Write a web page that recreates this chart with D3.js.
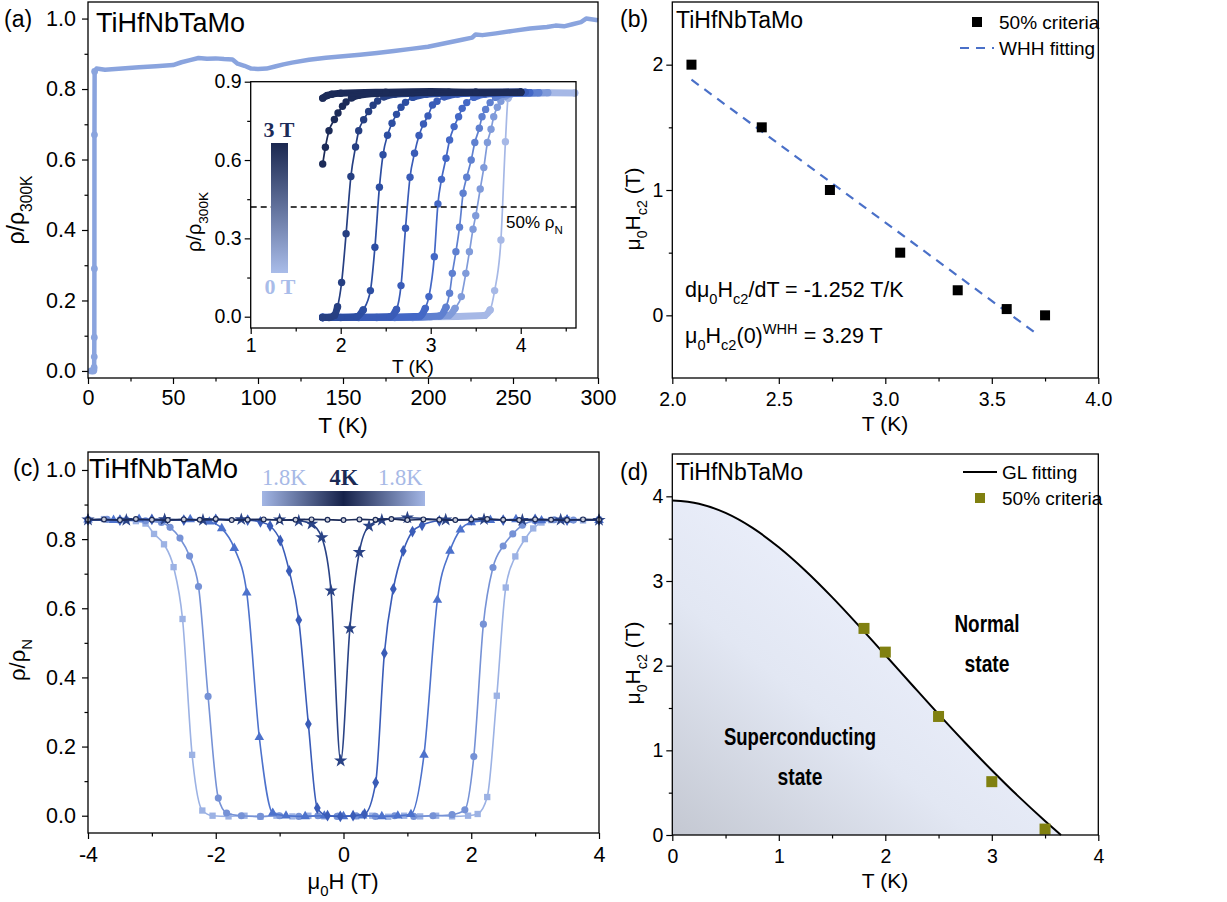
<!DOCTYPE html>
<html>
<head>
<meta charset="utf-8">
<script src="https://cdn.jsdelivr.net/npm/d3@7"></script>
<style>
  body { margin: 0; background: #fff; }
</style>
</head>
<body>
<div id="chart"></div>
<script>
// ---------- data ----------
// (a) rho/rho300K vs T, main curve
var aT = [1.8, 2.5, 3.2, 3.5, 3.6, 3.68, 3.72, 3.76, 3.8, 3.9, 5, 10, 20, 30, 40, 50, 55, 60, 65, 70, 75, 80, 85, 88, 92, 96, 100, 105, 110, 115, 120, 130, 140, 150, 160, 170, 180, 190, 200, 210, 220, 226, 228, 232, 240, 250, 260, 270, 275, 280, 285, 290, 293, 300]
var aR = [0.0, 0.0, 0.0, 0.003, 0.01, 0.04, 0.095, 0.29, 0.67, 0.85, 0.858, 0.855, 0.858, 0.862, 0.865, 0.868, 0.876, 0.882, 0.888, 0.886, 0.887, 0.885, 0.884, 0.872, 0.866, 0.858, 0.857, 0.858, 0.864, 0.87, 0.875, 0.883, 0.889, 0.893, 0.897, 0.902, 0.908, 0.914, 0.92, 0.93, 0.94, 0.946, 0.955, 0.953, 0.958, 0.965, 0.972, 0.976, 0.98, 0.978, 0.984, 0.99, 1.0, 0.995]

// (a) inset, one series per field (lightest drawn first)
var insetFields = ['0 T', '0.05 T', '0.2 T', '0.5 T', '1 T', '1.5 T', '2 T', '3 T', 'high']
var insetColors = ['#a6b8e6', '#809bda', '#5f80d0', '#4468c6', '#3a5cb8', '#2d4ea2', '#263f82', '#1c2b58', '#1c2b58']
var in0T = [[1.8, 0.0], [2.6, 0.0], [3.0, 0.0], [3.6, 0.005], [3.66, 0.026], [3.71, 0.1], [3.78, 0.294], [3.83, 0.67], [3.86, 0.837], [3.9, 0.855], [4.2, 0.858], [4.6, 0.857]]
var in005T = [[1.8, -0.003], [2.8, -0.003], [3.2, 0.005], [3.27, 0.032], [3.34, 0.077], [3.39, 0.166], [3.43, 0.249], [3.47, 0.335], [3.5, 0.387], [3.55, 0.489], [3.59, 0.571], [3.63, 0.667], [3.67, 0.718], [3.7, 0.766], [3.74, 0.802], [3.78, 0.825], [3.83, 0.845], [3.9, 0.855], [4.3, 0.858]]
var in02T = [[1.8, -0.003], [2.6, -0.003], [3.1, 0.003], [3.17, 0.036], [3.21, 0.09], [3.24, 0.166], [3.28, 0.249], [3.32, 0.343], [3.36, 0.473], [3.4, 0.534], [3.45, 0.6], [3.49, 0.667], [3.54, 0.722], [3.57, 0.766], [3.61, 0.794], [3.66, 0.82], [3.72, 0.84], [3.8, 0.852], [4.2, 0.858]]
var in05T = [[1.8, -0.003], [2.4, -0.003], [2.88, 0.002], [2.94, 0.032], [2.98, 0.077], [3.04, 0.23], [3.08, 0.432], [3.12, 0.526], [3.17, 0.607], [3.21, 0.677], [3.26, 0.728], [3.31, 0.766], [3.35, 0.798], [3.4, 0.82], [3.48, 0.84], [3.6, 0.852], [4.1, 0.858]]
var in1T = [[1.8, -0.003], [2.2, -0.003], [2.55, 0.0], [2.62, 0.028], [2.67, 0.119], [2.72, 0.339], [2.77, 0.534], [2.82, 0.626], [2.87, 0.694], [2.92, 0.738], [2.97, 0.769], [3.02, 0.811], [3.07, 0.825], [3.15, 0.842], [3.3, 0.853], [3.7, 0.858], [4.05, 0.86]]
var in15T = [[1.8, -0.003], [2.0, -0.003], [2.18, 0.0], [2.25, 0.026], [2.33, 0.1], [2.38, 0.266], [2.43, 0.496], [2.47, 0.62], [2.52, 0.695], [2.57, 0.741], [2.62, 0.775], [2.67, 0.802], [2.72, 0.821], [2.8, 0.84], [2.95, 0.852], [3.4, 0.858], [4.0, 0.86]]
var in2T = [[1.8, -0.003], [1.87, -0.003], [1.93, 0.005], [1.965, 0.038], [2.01, 0.131], [2.06, 0.318], [2.113, 0.537], [2.165, 0.65], [2.2, 0.712], [2.255, 0.754], [2.31, 0.786], [2.36, 0.81], [2.41, 0.826], [2.48, 0.842], [2.6, 0.852], [3.0, 0.858], [3.5, 0.86], [4.0, 0.86]]
var in3T = [[1.8, 0.585], [1.83, 0.649], [1.87, 0.712], [1.93, 0.755], [1.97, 0.78], [2.02, 0.806], [2.06, 0.822], [2.12, 0.838], [2.2, 0.848], [2.4, 0.855], [2.8, 0.858], [3.2, 0.86], [3.6, 0.858], [4.0, 0.86]]
var inHigh = [[1.8, 0.837], [1.85, 0.847], [1.9, 0.852], [2.0, 0.856], [2.5, 0.86], [3.0, 0.862], [3.5, 0.86], [4.0, 0.86]]
var insetSeries = [in0T, in005T, in02T, in05T, in1T, in15T, in2T, in3T, inHigh]
var halfLevel = 0.42

// (b) Hc2 from 50% criteria and WHH fit
var bT = [2.09, 2.42, 2.74, 3.07, 3.34, 3.57, 3.75]
var bH = [2.0, 1.5, 1.0, 0.5, 0.2, 0.05, 0.0]
var whhT = [2.09, 3.72]
var whhH = [1.88, -0.16]

// (c) rho/rhoN vs mu0H, temperatures 1.8 K ... 4 K
var c18 = [[-4, 0.856], [-3.75, 0.858], [-3.5, 0.855], [-3.25, 0.852], [-3.1, 0.845], [-2.966, 0.815], [-2.81, 0.785], [-2.66, 0.719], [-2.52, 0.569], [-2.37, 0.176], [-2.21, 0.015], [-2.05, 0.0], [-1.8, -0.002], [-1.55, 0.0], [-1.3, -0.003], [-1.05, 0.0], [-0.8, -0.002], [-0.55, 0.0], [-0.3, -0.002], [-0.05, 0.0], [0.2, -0.002], [0.45, 0.0], [0.7, -0.003], [0.95, 0.0], [1.2, -0.002], [1.45, 0.0], [1.7, -0.002], [1.95, 0.0], [2.1, 0.005], [2.25, 0.054], [2.4, 0.347], [2.54, 0.66], [2.69, 0.75], [2.84, 0.8], [2.97, 0.831], [3.1, 0.848], [3.25, 0.855], [3.5, 0.857], [3.75, 0.854], [4.0, 0.856]]
var c20 = [[-4, 0.855], [-3.7, 0.857], [-3.4, 0.856], [-3.1, 0.853], [-2.85, 0.848], [-2.715, 0.834], [-2.56, 0.803], [-2.41, 0.751], [-2.27, 0.663], [-2.12, 0.345], [-1.96, 0.051], [-1.83, 0.008], [-1.6, 0.0], [-1.3, -0.002], [-1.0, 0.0], [-0.7, -0.002], [-0.4, 0.0], [-0.1, -0.002], [0.2, 0.0], [0.5, -0.002], [0.8, 0.0], [1.1, -0.002], [1.4, 0.0], [1.7, 0.003], [1.9, 0.017], [2.04, 0.171], [2.19, 0.554], [2.34, 0.718], [2.5, 0.78], [2.65, 0.815], [2.8, 0.84], [3.0, 0.853], [3.3, 0.856], [3.6, 0.855], [4.0, 0.856]]
var c25 = [[-4, 0.856], [-3.6, 0.855], [-3.2, 0.858], [-2.8, 0.855], [-2.4, 0.857], [-2.1, 0.85], [-1.906, 0.831], [-1.71, 0.774], [-1.515, 0.645], [-1.318, 0.227], [-1.108, 0.008], [-0.9, 0.0], [-0.6, -0.002], [-0.3, 0.0], [0.0, -0.002], [0.3, 0.0], [0.6, -0.002], [0.85, 0.0], [1.056, 0.004], [1.26, 0.176], [1.47, 0.624], [1.667, 0.766], [1.83, 0.827], [2.0, 0.848], [2.3, 0.855], [2.7, 0.857], [3.1, 0.854], [3.5, 0.856], [4.0, 0.855]]
var c30 = [[-4, 0.856], [-3.5, 0.855], [-3.0, 0.857], [-2.5, 0.855], [-2.0, 0.857], [-1.5, 0.855], [-1.3, 0.85], [-1.15, 0.838], [-0.99, 0.796], [-0.85, 0.708], [-0.7, 0.566], [-0.55, 0.265], [-0.41, 0.022], [-0.25, 0.0], [-0.05, -0.002], [0.15, 0.0], [0.33, 0.005], [0.504, 0.096], [0.64, 0.47], [0.78, 0.656], [0.936, 0.766], [1.08, 0.822], [1.23, 0.84], [1.5, 0.853], [2.0, 0.856], [2.5, 0.855], [3.0, 0.857], [3.5, 0.855], [4.0, 0.856]]
var c35 = [[-4, 0.856], [-3.4, 0.855], [-2.8, 0.857], [-2.2, 0.855], [-1.6, 0.857], [-1.0, 0.856], [-0.7, 0.853], [-0.5, 0.844], [-0.34, 0.805], [-0.196, 0.651], [-0.044, 0.159], [0.1, 0.542], [0.247, 0.762], [0.4, 0.838], [0.6, 0.855], [1.0, 0.862], [1.6, 0.856], [2.2, 0.857], [2.8, 0.855], [3.4, 0.856], [4.0, 0.855]]
var c40 = [[-4, 0.856], [-3.75, 0.857], [-3.5, 0.855], [-3.25, 0.858], [-3, 0.856], [-2.75, 0.855], [-2.5, 0.857], [-2.25, 0.856], [-2, 0.858], [-1.75, 0.855], [-1.5, 0.856], [-1.25, 0.857], [-1, 0.855], [-0.75, 0.856], [-0.5, 0.857], [-0.25, 0.856], [0, 0.855], [0.25, 0.857], [0.5, 0.856], [0.75, 0.858], [1, 0.855], [1.25, 0.857], [1.5, 0.856], [1.75, 0.855], [2, 0.857], [2.25, 0.858], [2.5, 0.856], [2.75, 0.855], [3, 0.857], [3.25, 0.856], [3.5, 0.855], [3.75, 0.857], [4, 0.856]]
var cSeries = [c18, c20, c25, c30, c35, c40]
var cTemps = ['1.8 K', '2.0 K', '2.5 K', '3.0 K', '3.5 K', '4.0 K']
var cColors = ['#9cb2e4', '#7692d6', '#4d72cc', '#3a5cb8', '#2a4386', '#1b2a57']
var cSymbols = [d3.symbolSquare, d3.symbolCircle, d3.symbolTriangle, d3.symbolDiamond, d3.symbolStar, d3.symbolCircle]

// (d) phase diagram
var dT = [1.8, 2.0, 2.5, 3.0, 3.5]
var dH = [2.44, 2.16, 1.40, 0.63, 0.07]
var glT = [0, 0.25, 0.5, 0.75, 1.0, 1.25, 1.5, 1.75, 2.0, 2.25, 2.5, 2.75, 3.0, 3.25, 3.5, 3.65]
var glH = [3.95, 3.913, 3.804, 3.63, 3.398, 3.121, 2.809, 2.473, 2.126, 1.775, 1.427, 1.089, 0.765, 0.456, 0.166, 0]

// ---------- drawing ----------
var FONT = 'Arial, "Liberation Sans", sans-serif'
var SERIF = '"Times New Roman", "Liberation Serif", serif'

var svg = d3.select('#chart').append('svg')
  .attr('width', 1227)
  .attr('height', 902)
  .style('background', '#fff')
var defs = svg.append('defs')

// text with sub / superscripts
function rich (g, x, y, parts, size, opt) {
  opt = opt || {}
  var t = g.append('text')
    .attr('font-family', opt.family || FONT)
    .attr('font-size', size)
    .attr('text-anchor', opt.anchor || 'start')
    .attr('fill', opt.fill || '#000')
  if (opt.weight) t.attr('font-weight', opt.weight)
  if (opt.rotate) {
    t.attr('transform', 'translate(' + x + ',' + y + ')rotate(-90)')
  } else {
    t.attr('x', x).attr('y', y)
  }
  var shift = 0
  parts.forEach(function (p) {
    var s = typeof p === 'string' ? { t: p } : p
    var target = s.sub ? size * 0.33 : (s.sup ? -size * 0.42 : 0)
    t.append('tspan')
      .attr('dy', target - shift)
      .attr('font-size', (s.sub || s.sup) ? size * 0.68 : size)
      .text(s.t)
    shift = target
  })
  return t
}

function panel (p) {
  var g = svg.append('g')
  var xs = d3.scaleLinear().domain(p.xd).range([p.left, p.right])
  var ys = d3.scaleLinear().domain(p.yd).range([p.bottom, p.top])
  if (p.bg) {
    g.append('rect')
      .attr('x', p.left).attr('y', p.top)
      .attr('width', p.right - p.left).attr('height', p.bottom - p.top)
      .attr('fill', p.bg)
  }
  var ax = g.append('g')
  ax.append('g').attr('transform', 'translate(0,' + p.bottom + ')')
    .call(d3.axisBottom(xs).tickValues(p.xMinor).tickSize(3.5).tickFormat(''))
  ax.append('g').attr('transform', 'translate(0,' + p.bottom + ')')
    .call(d3.axisBottom(xs).tickValues(p.xMajor).tickSize(6).tickPadding(p.xPad).tickFormat(p.xFmt))
  ax.append('g').attr('transform', 'translate(' + p.left + ',0)')
    .call(d3.axisLeft(ys).tickValues(p.yMinor).tickSize(3.5).tickFormat(''))
  ax.append('g').attr('transform', 'translate(' + p.left + ',0)')
    .call(d3.axisLeft(ys).tickValues(p.yMajor).tickSize(6).tickPadding(p.yPad).tickFormat(p.yFmt))
  ax.selectAll('.domain').remove()
  ax.selectAll('line').attr('stroke', '#000').attr('stroke-width', 1.2)
  ax.selectAll('text').attr('font-family', FONT).attr('font-size', p.fs).attr('fill', '#000')
  var plot = g.append('g')
  return {
    g: g,
    plot: plot,
    xs: xs,
    ys: ys,
    frame: function () {
      g.append('rect')
        .attr('x', p.left).attr('y', p.top)
        .attr('width', p.right - p.left).attr('height', p.bottom - p.top)
        .attr('fill', 'none').attr('stroke', '#000').attr('stroke-width', 1.3)
    }
  }
}

function fix1 (d) { return d.toFixed(1) }
function plain (d) { return String(d) }

// ===== (a) =====
var A = panel({
  left: 88, right: 598, top: 2, bottom: 378,
  xd: [0, 300], yd: [-0.02, 1.047],
  xMajor: [0, 50, 100, 150, 200, 250, 300], xMinor: [25, 75, 125, 175, 225, 275],
  yMajor: [0, 0.2, 0.4, 0.6, 0.8, 1.0], yMinor: [0.1, 0.3, 0.5, 0.7, 0.9],
  xFmt: plain, yFmt: fix1, xPad: 6, yPad: 6, fs: 21.5
})
var aPts = aT.map(function (t, i) { return [t, aR[i]] })
A.plot.append('path')
  .datum(aPts)
  .attr('fill', 'none')
  .attr('stroke', '#8aa4de')
  .attr('stroke-width', 4.5)
  .attr('stroke-linejoin', 'round')
  .attr('d', d3.line().x(function (d) { return A.xs(d[0]) }).y(function (d) { return A.ys(d[1]) }))
A.plot.selectAll('.adot')
  .data(aPts.filter(function (d) { return d[0] <= 3.9 }))
  .enter().append('circle')
  .attr('cx', function (d) { return A.xs(d[0]) })
  .attr('cy', function (d) { return A.ys(d[1]) })
  .attr('r', 3.4)
  .attr('fill', '#8aa4de')
A.frame()
A.g.append('text').attr('x', 4).attr('y', 27).attr('font-family', FONT).attr('font-size', 23).text('(a)')
A.g.append('text').attr('x', 96).attr('y', 32).attr('font-family', FONT).attr('font-size', 27).text('TiHfNbTaMo')
A.g.append('text').attr('x', 343).attr('y', 433).attr('text-anchor', 'middle')
  .attr('font-family', FONT).attr('font-size', 22.5).text('T (K)')
rich(A.g, 24, 210, ['ρ/ρ', { t: '300K', sub: true }], 23, { anchor: 'middle', rotate: true })

// ===== (a) inset =====
var I = panel({
  left: 250.7, right: 576, top: 81.7, bottom: 328,
  xd: [1, 4.614], yd: [-0.0433, 0.9], bg: '#fff',
  xMajor: [1, 2, 3, 4], xMinor: [1.5, 2.5, 3.5, 4.5],
  yMajor: [0, 0.3, 0.6, 0.9], yMinor: [0.15, 0.45, 0.75],
  xFmt: plain, yFmt: fix1, xPad: 4, yPad: 3, fs: 19.5
})
var iLine = d3.line().curve(d3.curveMonotoneX)
  .x(function (d) { return I.xs(d[0]) }).y(function (d) { return I.ys(d[1]) })
insetSeries.forEach(function (pts, k) {
  var col = insetColors[k]
  var lo = pts.filter(function (d) { return d[1] < 0.04 })
  var hi = pts.filter(function (d) { return d[1] > 0.83 })
  ;[lo, hi].forEach(function (band) {
    if (band.length > 1) {
      I.plot.append('path').datum(band).attr('fill', 'none')
        .attr('stroke', col).attr('stroke-width', 7).attr('stroke-linecap', 'round')
        .attr('d', iLine)
    }
  })
  I.plot.append('path').datum(pts).attr('fill', 'none')
    .attr('stroke', col).attr('stroke-width', 1.7).attr('d', iLine)
  I.plot.selectAll('.idot' + k).data(pts).enter().append('circle')
    .attr('cx', function (d) { return I.xs(d[0]) })
    .attr('cy', function (d) { return I.ys(d[1]) })
    .attr('r', 3.7).attr('fill', col)
})
I.plot.append('line')
  .attr('x1', I.xs(1)).attr('x2', I.xs(4.614))
  .attr('y1', I.ys(halfLevel)).attr('y2', I.ys(halfLevel))
  .attr('stroke', '#000').attr('stroke-width', 1.5).attr('stroke-dasharray', '6,4')
rich(I.g, 506, 228, ['50% ρ', { t: 'N', sub: true }], 17)
// field colour bar
var vg = defs.append('linearGradient').attr('id', 'fieldGrad').attr('x1', 0).attr('y1', 0).attr('x2', 0).attr('y2', 1)
vg.append('stop').attr('offset', 0).attr('stop-color', '#1b2850')
vg.append('stop').attr('offset', 1).attr('stop-color', '#a9bce9')
I.g.append('rect').attr('x', 271).attr('y', 143).attr('width', 17).attr('height', 130).attr('fill', 'url(#fieldGrad)')
I.g.append('text').attr('x', 279).attr('y', 137).attr('text-anchor', 'middle')
  .attr('font-family', SERIF).attr('font-weight', 'bold').attr('font-size', 22).attr('fill', '#1c2b58').text('3 T')
I.g.append('text').attr('x', 280).attr('y', 294).attr('text-anchor', 'middle')
  .attr('font-family', SERIF).attr('font-weight', 'bold').attr('font-size', 22).attr('fill', '#a9bce9').text('0 T')
I.frame()
I.g.append('text').attr('x', 413).attr('y', 373).attr('text-anchor', 'middle')
  .attr('font-family', FONT).attr('font-size', 19).text('T (K)')
rich(I.g, 201, 222, ['ρ/ρ', { t: '300K', sub: true }], 20, { anchor: 'middle', rotate: true })

// ===== (b) =====
var B = panel({
  left: 672.3, right: 1098.3, top: 2, bottom: 378,
  xd: [2, 4], yd: [-0.5, 2.5],
  xMajor: [2, 2.5, 3, 3.5, 4], xMinor: [2.25, 2.75, 3.25, 3.75],
  yMajor: [0, 1, 2], yMinor: [0.5, 1.5],
  xFmt: fix1, yFmt: plain, xPad: 8, yPad: 3, fs: 19.5
})
B.plot.append('path')
  .datum(whhT.map(function (t, i) { return [t, whhH[i]] }))
  .attr('fill', 'none').attr('stroke', '#4a70c8').attr('stroke-width', 2.2).attr('stroke-dasharray', '9,7')
  .attr('d', d3.line().x(function (d) { return B.xs(d[0]) }).y(function (d) { return B.ys(d[1]) }))
B.plot.selectAll('.bpt').data(bT).enter().append('rect')
  .attr('x', function (d) { return B.xs(d) - 5 })
  .attr('y', function (d, i) { return B.ys(bH[i]) - 5 })
  .attr('width', 10).attr('height', 10).attr('fill', '#000')
B.frame()
B.g.append('text').attr('x', 620).attr('y', 27).attr('font-family', FONT).attr('font-size', 23).text('(b)')
B.g.append('text').attr('x', 676).attr('y', 28).attr('font-family', FONT).attr('font-size', 23).text('TiHfNbTaMo')
B.g.append('rect').attr('x', 972).attr('y', 17).attr('width', 10).attr('height', 10).attr('fill', '#000')
B.g.append('text').attr('x', 999).attr('y', 29).attr('font-family', FONT).attr('font-size', 19).text('50% criteria')
B.g.append('line').attr('x1', 960).attr('x2', 994).attr('y1', 48).attr('y2', 48)
  .attr('stroke', '#4a70c8').attr('stroke-width', 2.2).attr('stroke-dasharray', '9,7')
B.g.append('text').attr('x', 999).attr('y', 55).attr('font-family', FONT).attr('font-size', 19).text('WHH fitting')
rich(B.g, 685, 297, ['dμ', { t: '0', sub: true }, 'H', { t: 'c2', sub: true }, '/dT = -1.252 T/K'], 21.5)
rich(B.g, 685, 343, ['μ', { t: '0', sub: true }, 'H', { t: 'c2', sub: true }, '(0)', { t: 'WHH', sup: true }, ' = 3.29 T'], 21.5)
B.g.append('text').attr('x', 885).attr('y', 431).attr('text-anchor', 'middle')
  .attr('font-family', FONT).attr('font-size', 21).text('T (K)')
rich(B.g, 640, 209, ['μ', { t: '0', sub: true }, 'H', { t: 'c2', sub: true }, ' (T)'], 21, { anchor: 'middle', rotate: true })

// ===== (c) =====
var C = panel({
  left: 88, right: 599, top: 452, bottom: 833,
  xd: [-4, 4], yd: [-0.05, 1.052],
  xMajor: [-4, -2, 0, 2, 4], xMinor: [-3, -1, 1, 3],
  yMajor: [0, 0.2, 0.4, 0.6, 0.8, 1.0], yMinor: [0.1, 0.3, 0.5, 0.7, 0.9],
  xFmt: plain, yFmt: fix1, xPad: 8, yPad: 6, fs: 21.5
})
var cLine = d3.line().curve(d3.curveMonotoneX)
  .x(function (d) { return C.xs(d[0]) }).y(function (d) { return C.ys(d[1]) })
cSeries.forEach(function (pts, k) {
  var col = cColors[k]
  C.plot.append('path').datum(pts).attr('fill', 'none')
    .attr('stroke', col).attr('stroke-width', 1.6).attr('d', cLine)
  var sym = d3.symbol().type(cSymbols[k]).size(k === 5 ? 18 : (k === 4 ? 55 : 40))
  C.plot.selectAll('.cm' + k).data(pts).enter().append('path')
    .attr('transform', function (d) { return 'translate(' + C.xs(d[0]) + ',' + C.ys(d[1]) + ')' })
    .attr('d', sym)
    .attr('fill', k === 5 ? '#c8ccd8' : col)
    .attr('stroke', k === 5 ? col : 'none')
    .attr('stroke-width', 1.2)
})
var hg = defs.append('linearGradient').attr('id', 'tempGrad').attr('x1', 0).attr('y1', 0).attr('x2', 1).attr('y2', 0)
hg.append('stop').attr('offset', 0).attr('stop-color', '#a3b6e5')
hg.append('stop').attr('offset', 0.5).attr('stop-color', '#16224a')
hg.append('stop').attr('offset', 1).attr('stop-color', '#a3b6e5')
C.g.append('rect').attr('x', 262).attr('y', 491).attr('width', 163).attr('height', 15).attr('fill', 'url(#tempGrad)')
C.g.append('text').attr('x', 262).attr('y', 485).attr('font-family', SERIF).attr('font-size', 22.5).attr('fill', '#a7b9e6').text('1.8K')
C.g.append('text').attr('x', 344).attr('y', 485).attr('text-anchor', 'middle').attr('font-family', SERIF)
  .attr('font-weight', 'bold').attr('font-size', 22.5).attr('fill', '#1b2a55').text('4K')
C.g.append('text').attr('x', 378).attr('y', 485).attr('font-family', SERIF).attr('font-size', 22.5).attr('fill', '#a7b9e6').text('1.8K')
C.frame()
C.g.append('text').attr('x', 13).attr('y', 476).attr('font-family', FONT).attr('font-size', 23).text('(c)')
C.g.append('text').attr('x', 89).attr('y', 478).attr('font-family', FONT).attr('font-size', 27).text('TiHfNbTaMo')
rich(C.g, 343, 889, ['μ', { t: '0', sub: true }, 'H (T)'], 22, { anchor: 'middle' })
rich(C.g, 25, 660, ['ρ/ρ', { t: 'N', sub: true }], 22, { anchor: 'middle', rotate: true })

// ===== (d) =====
var D = panel({
  left: 672.3, right: 1098.3, top: 454, bottom: 835,
  xd: [0, 4], yd: [0, 4.5],
  xMajor: [0, 1, 2, 3, 4], xMinor: [0.5, 1.5, 2.5, 3.5],
  yMajor: [0, 1, 2, 3, 4], yMinor: [0.5, 1.5, 2.5, 3.5],
  xFmt: plain, yFmt: plain, xPad: 8, yPad: 3, fs: 19.5
})
var glPts = glT.map(function (t, i) { return [t, glH[i]] })
var sg = defs.append('linearGradient').attr('id', 'scGrad').attr('x1', 0).attr('y1', 1).attr('x2', 0.6).attr('y2', 0.35)
sg.append('stop').attr('offset', 0).attr('stop-color', '#c4c8d2')
sg.append('stop').attr('offset', 0.6).attr('stop-color', '#e2e7f3')
sg.append('stop').attr('offset', 1).attr('stop-color', '#eaeefa')
D.plot.append('path').datum(glPts)
  .attr('fill', 'url(#scGrad)')
  .attr('d', d3.area().curve(d3.curveMonotoneX)
    .x(function (d) { return D.xs(d[0]) }).y0(D.ys(0)).y1(function (d) { return D.ys(d[1]) }))
D.plot.append('path').datum(glPts)
  .attr('fill', 'none').attr('stroke', '#000').attr('stroke-width', 2)
  .attr('d', d3.line().curve(d3.curveMonotoneX)
    .x(function (d) { return D.xs(d[0]) }).y(function (d) { return D.ys(d[1]) }))
D.plot.selectAll('.dpt').data(dT).enter().append('rect')
  .attr('x', function (d) { return D.xs(d) - 5.5 })
  .attr('y', function (d, i) { return D.ys(dH[i]) - 5.5 })
  .attr('width', 11).attr('height', 11).attr('fill', '#808010')
D.g.append('text').attr('x', 987).attr('y', 632).attr('text-anchor', 'middle').attr('font-family', FONT)
  .attr('font-weight', 'bold').attr('font-size', 23).attr('textLength', 65).attr('lengthAdjust', 'spacingAndGlyphs').text('Normal')
D.g.append('text').attr('x', 987).attr('y', 672).attr('text-anchor', 'middle').attr('font-family', FONT)
  .attr('font-weight', 'bold').attr('font-size', 23).attr('textLength', 45).attr('lengthAdjust', 'spacingAndGlyphs').text('state')
D.g.append('text').attr('x', 800).attr('y', 745).attr('text-anchor', 'middle').attr('font-family', FONT)
  .attr('font-weight', 'bold').attr('font-size', 23).attr('textLength', 152).attr('lengthAdjust', 'spacingAndGlyphs').text('Superconducting')
D.g.append('text').attr('x', 800).attr('y', 785).attr('text-anchor', 'middle').attr('font-family', FONT)
  .attr('font-weight', 'bold').attr('font-size', 23).attr('textLength', 45).attr('lengthAdjust', 'spacingAndGlyphs').text('state')
D.frame()
D.g.append('text').attr('x', 620).attr('y', 480).attr('font-family', FONT).attr('font-size', 23).text('(d)')
D.g.append('text').attr('x', 676).attr('y', 480).attr('font-family', FONT).attr('font-size', 23).text('TiHfNbTaMo')
D.g.append('line').attr('x1', 963).attr('x2', 997).attr('y1', 472).attr('y2', 472).attr('stroke', '#000').attr('stroke-width', 2)
D.g.append('text').attr('x', 1002).attr('y', 479).attr('font-family', FONT).attr('font-size', 19).text('GL fitting')
D.g.append('rect').attr('x', 975).attr('y', 493).attr('width', 10).attr('height', 10).attr('fill', '#808010')
D.g.append('text').attr('x', 1002).attr('y', 505).attr('font-family', FONT).attr('font-size', 19).text('50% criteria')
D.g.append('text').attr('x', 885).attr('y', 888).attr('text-anchor', 'middle')
  .attr('font-family', FONT).attr('font-size', 21).text('T (K)')
rich(D.g, 640, 663, ['μ', { t: '0', sub: true }, 'H', { t: 'c2', sub: true }, ' (T)'], 21, { anchor: 'middle', rotate: true })
</script>
</body>
</html>
